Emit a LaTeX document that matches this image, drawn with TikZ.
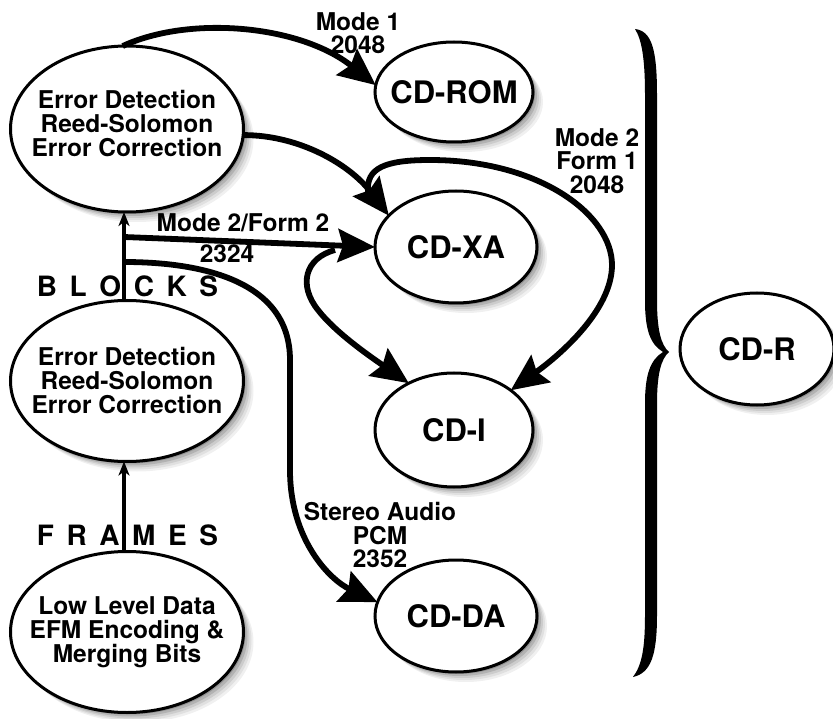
\documentclass[tikz,border=0pt]{standalone}
\usepackage{fontspec}
\setmainfont{TeX Gyre Heros}
\usetikzlibrary{shapes.geometric,arrows.meta}
\newcommand{\ellshadow}[4]{%
  \fill[black!6]  (#1+10,#2+10) ellipse [x radius=#3, y radius=#4];
  \fill[black!12] (#1+8,#2+8) ellipse [x radius=#3, y radius=#4];
  \fill[black!20] (#1+6,#2+6) ellipse [x radius=#3, y radius=#4];
  \fill[black!30] (#1+4,#2+4) ellipse [x radius=#3, y radius=#4];
  \fill[black!42] (#1+2,#2+2) ellipse [x radius=#3, y radius=#4];}
\begin{document}
\begin{tikzpicture}[x=1pt,y=-1pt,
  ell/.style={ellipse, draw, line width=3pt, fill=white, inner sep=-45pt, outer sep=0pt, align=center,
     font=\fontsize{24.5}{24}\selectfont\bfseries},
  cd/.style={ell, font=\fontsize{31}{32}\selectfont\bfseries},
  lbl/.style={align=center, inner sep=0pt, font=\fontsize{24.5}{23.5}\selectfont\bfseries},
  spaced/.style={inner sep=0pt, font=\fontsize{28}{28}\selectfont\bfseries},
  big/.style={line width=5.8pt, -{Stealth[length=37pt,width=33pt,inset=5pt]}},
  thinarrow/.style={line width=3.2pt, -{Stealth[length=14pt,width=11pt,inset=4pt]}},
  ]
\useasboundingbox (0,0) rectangle (833,719);

% shadows
\ellshadow{127}{129}{116.5}{83}
\ellshadow{127}{381}{116.5}{80.5}
\ellshadow{127}{632}{116.5}{80.5}
\ellshadow{454}{92}{79}{50}
\ellshadow{456}{247}{81}{56}
\ellshadow{454}{430}{79}{57}
\ellshadow{456}{616}{81}{56}
\ellshadow{757}{349}{77}{56}

% left column
\node[ell, minimum width=233pt, minimum height=166pt] (e1) at (127,129) {Error Detection\\Reed-Solomon\\Error Correction\\[-12pt]};
\node[ell, minimum width=233pt, minimum height=161pt] (e2) at (127,381) {Error Detection\\Reed-Solomon\\Error Correction};
\node[ell, minimum width=233pt, minimum height=161pt] (e3) at (127,632) {Low Level Data\\EFM Encoding \&\\Merging Bits};

% formats
\node[cd, minimum width=158pt, minimum height=100pt] (rom) at (454,92) {CD-ROM};
\node[cd, minimum width=162pt, minimum height=112pt] (xa) at (456,247) {CD-XA};
\node[cd, minimum width=158pt, minimum height=114pt] (cdi) at (454,430) {CD-I};
\node[cd, minimum width=162pt, minimum height=112pt] (da) at (456,616) {CD-DA};
\node[cd, minimum width=154pt, minimum height=112pt] (cdr) at (757,349) {CD-R};

% brace
\fill (635,29) .. controls (652,31) and (657,50) .. (657,95) -- (657,300)
  .. controls (657,330) and (661,345) .. (669,352)
  .. controls (661,359) and (657,374) .. (657,404) -- (657,615)
  .. controls (657,655) and (651,673) .. (633,677)
  .. controls (642,665) and (645,648) .. (645,615) -- (645,404)
  .. controls (645,375) and (650,360) .. (663,352)
  .. controls (650,344) and (645,330) .. (645,300) -- (645,95)
  .. controls (645,60) and (642,40) .. (635,29) -- cycle;

% vertical thin arrows
\draw[thinarrow] ([xshift=-3pt]e3.north) -- ([xshift=-3pt]e2.south);
\draw[thinarrow] ([xshift=-3pt]e2.north) -- ([xshift=-3pt]e1.south);

\node[spaced, anchor=base] (frames) at (127.5,545) {F\hspace{12.6pt}R\hspace{12.6pt}A\hspace{12.6pt}M\hspace{12.6pt}E\hspace{12.6pt}S};
\node[spaced, anchor=base] (blocks) at (127.5,297) {B\hspace{12.6pt}L\hspace{12.6pt}O\hspace{12.6pt}C\hspace{12.6pt}K\hspace{12.6pt}S};

\coordinate (b1) at (124,237);
\coordinate (b2) at (124,262);
\coordinate (f1) at (368,192);
\coordinate (f2) at (335,250);

% thick connectors
\draw[big] (e1.93) .. controls (190,15) and (300,25) .. (rom.175);
\draw[big] (e1.-3) .. controls (300,135) and (350,165) .. (xa.155);
\draw[big] (b1) -- (xa.west);
\draw[big] (b2) .. controls (200,262) and (290,280) .. (290,360) -- (290,470)
  .. controls (290,540) and (330,580) .. (da.170);
\draw[big] (f1) .. controls (366,168) and (385,160) .. (430,160)
  .. controls (540,160) and (612,215) .. (612,265)
  .. controls (612,310) and (560,355) .. (cdi.35);
\draw[big] (f2) .. controls (305,258) and (298,285) .. (318,310)
  .. controls (335,332) and (368,355) .. (cdi.134);

% labels
\node[lbl] (l1) at (358,33) {Mode 1\\2048};
\node[lbl, anchor=base] (l2) at (243,232) {Mode 2/Form 2};
\node[lbl, anchor=base] (l3) at (227,263) {2324};
\node[lbl] (l4) at (597,161) {Mode 2\\Form 1\\2048};
\node[lbl] (l5) at (380,535) {Stereo Audio\\PCM\\2352};
\end{tikzpicture}
\end{document}
